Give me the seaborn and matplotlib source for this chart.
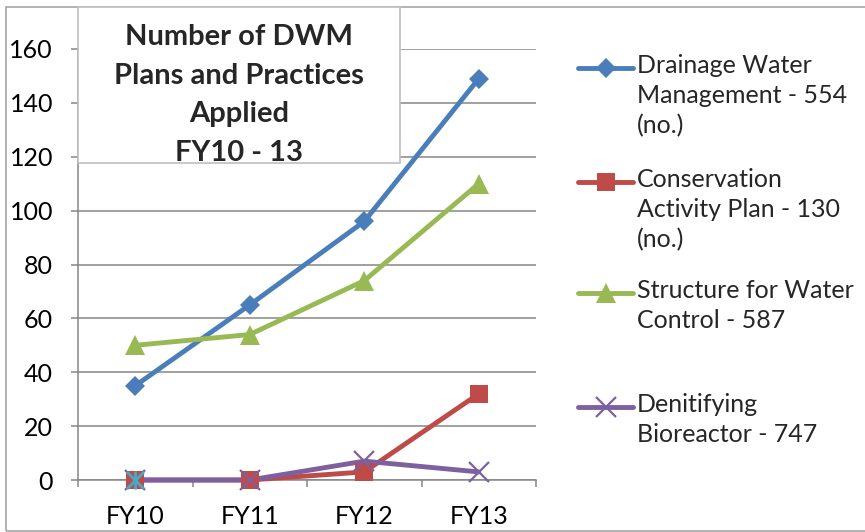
import numpy as np
import pandas as pd
import matplotlib
matplotlib.use("Agg")
import matplotlib.pyplot as plt
from matplotlib.lines import Line2D
from matplotlib.patches import Rectangle
import seaborn as sns

# chart data
fiscal_years = ["FY10", "FY11", "FY12", "FY13"]
drainage = [35, 65, 96, 149]
conservation = [0, 0, 3, 32]
structure = [50, 54, 74, 110]
bioreactor = [0, 0, 7, 3]
extra_point = [0, np.nan, np.nan, np.nan]  # stray 5th series, not in legend

series_names = [
    "Drainage Water\nManagement - 554\n(no.)",
    "Conservation\nActivity Plan - 130\n(no.)",
    "Structure for Water\nControl - 587",
    "Denitifying\nBioreactor - 747",
]
y_ticks = [0, 20, 40, 60, 80, 100, 120, 140, 160]
title_lines = "Number of DWM\nPlans and Practices\nApplied\nFY10 - 13"

W, H = 865, 532

def px(x, y):
    return x / W, 1 - y / H

sns.set_theme(style="white")
plt.rcParams['font.family'] = ['Lato', 'DejaVu Sans']

fig = plt.figure(figsize=(W / 100, H / 100), dpi=100)
fig.patch.set_facecolor("white")

# outer chart border
fig.add_artist(Rectangle(px(6, 531), (W + 10) / W, (531 - 7) / H, transform=fig.transFigure,
                         facecolor="none", edgecolor="#A6A6A6", lw=1.2, zorder=0))

l, b = px(78, 480)
r, t = px(536, 49)
ax = fig.add_axes([l, b, r - l, t - b])

colors = ["#4A7EBB", "#BE4B48", "#98B954", "#7D60A0"]
markers = ["D", "s", "^", "x"]
msizes = [10.5, 13, 14, 14]
values = [drainage, conservation, structure, bioreactor]

# lines first, markers on top (like Excel)
for vals, c in zip(values, colors):
    d = pd.DataFrame({"year": fiscal_years, "n": vals})
    sns.lineplot(data=d, x="year", y="n", ax=ax, color=c, lw=3.5, sort=False,
                 solid_capstyle="round", zorder=3, clip_on=False)
for vals, c, m, ms in zip(values, colors, markers, msizes):
    d = pd.DataFrame({"year": fiscal_years, "n": vals})
    sns.lineplot(data=d, x="year", y="n", ax=ax, color=c, lw=0, marker=m,
                 markersize=ms, markeredgewidth=1.6 if m == "x" else 0,
                 markeredgecolor=c, zorder=4, clip_on=False)

d = pd.DataFrame({"year": fiscal_years, "n": extra_point}).dropna()
for m in ["x", "|"]:
    sns.scatterplot(data=d, x="year", y="n", ax=ax, color="#46AAC5", marker=m,
                    s=150, linewidth=2, zorder=6, clip_on=False)

ax.set_xlim(-0.5, 3.5)
ax.set_ylim(0, 160)
ax.set_yticks(y_ticks)
ax.set_xticks(range(len(fiscal_years)))
ax.set_xticklabels(fiscal_years)
ax.set_xticks(np.arange(-0.5, 3.6, 1), minor=True)
ax.set_xlabel("")
ax.set_ylabel("")
ax.yaxis.grid(True, color="#868686", lw=1.1)
ax.set_axisbelow(True)
for s in ["top", "right"]:
    ax.spines[s].set_visible(False)
for s in ["left", "bottom"]:
    ax.spines[s].set_color("#868686")
    ax.spines[s].set_linewidth(1.1)
ax.tick_params(axis="y", which="major", left=True, length=5, width=1.1, color="#868686",
               labelsize=18, pad=13, labelcolor="black")
ax.tick_params(axis="x", which="major", bottom=False, length=0, labelsize=18, pad=18,
               labelcolor="black")
ax.tick_params(axis="x", which="minor", bottom=True, length=5, width=1.1, color="#868686")
ax.get_legend() and ax.get_legend().remove()

# title box
box = Rectangle(px(78, 163), (400 - 78) / W, (163 - 7) / H, transform=fig.transFigure,
                facecolor="white", edgecolor="#BFBFBF", lw=1.2, zorder=10)
fig.add_artist(box)
tt = fig.text(*px(239, 24), title_lines, ha="center", va="top", fontsize=21,
              fontweight="bold", linespacing=1.6, zorder=11)
tt.set_clip_path(box)

# legend drawn by hand so the handle lines up with the first text line
legend_y = [68, 182, 293, 407]
for name, c, m, ms, y in zip(series_names, colors, markers, msizes, legend_y):
    fig.add_artist(Line2D([578 / W, 633 / W], [1 - y / H] * 2, transform=fig.transFigure,
                          color=c, lw=3.5, solid_capstyle="round"))
    fig.add_artist(Line2D([605.5 / W], [1 - y / H], transform=fig.transFigure, color=c,
                          marker=m, markersize=ms, markeredgewidth=1.6 if m == "x" else 0,
                          markeredgecolor=c, lw=0))
    fig.text(637 / W, 1 - (y - 14) / H, name, ha="left", va="top", fontsize=18,
             linespacing=1.36)

fig.savefig("out.png", dpi=100)
